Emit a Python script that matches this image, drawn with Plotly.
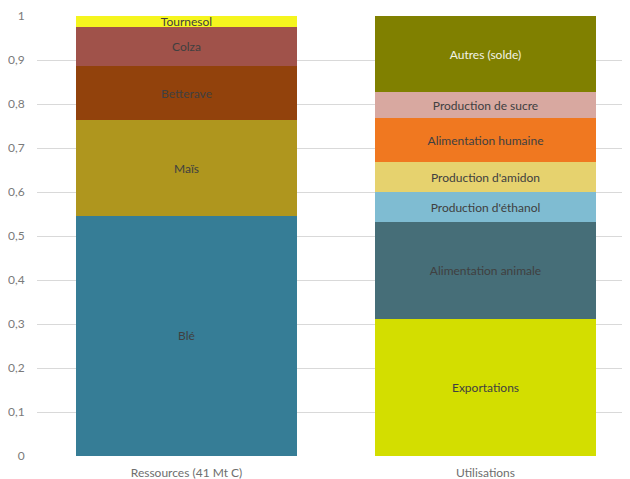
import plotly.graph_objects as go

categories = ["Ressources (41 Mt C)", "Utilisations"]

ressources_names = ["Blé", "Maïs", "Betterave", "Colza", "Tournesol"]
ressources_values = [0.546, 0.217, 0.124, 0.089, 0.024]
ressources_colors = ["#367D96", "#AF961E", "#92420C", "#A0524A", "#F5F51E"]

utilisations_names = ["Exportations", "Alimentation animale", "Production d'éthanol",
                      "Production d'amidon", "Alimentation humaine",
                      "Production de sucre", "Autres (solde)"]
utilisations_values = [0.312, 0.219, 0.069, 0.068, 0.100, 0.059, 0.173]
utilisations_colors = ["#D3DE00", "#466E78", "#7FBCD2", "#E6D26E", "#F07820",
                       "#D8A8A0", "#808000"]
utilisations_textcolors = ["#404040"] * 6 + ["#F2F2E6"]

y_tickvals = [0, 0.1, 0.2, 0.3, 0.4, 0.5, 0.6, 0.7, 0.8, 0.9, 1]
y_ticktext = ["0", "0,1", "0,2", "0,3", "0,4", "0,5", "0,6", "0,7", "0,8", "0,9", "1"]

FONT = "Lato"
fig = go.Figure()

for n, v, c in zip(ressources_names, ressources_values, ressources_colors):
    fig.add_trace(go.Bar(
        x=[categories[0]], y=[v], name=n, marker_color=c, marker_line_width=0,
        text=[n], textposition="inside", insidetextanchor="middle", textangle=0,
        textfont=dict(family=FONT, size=12, color="#404040"),
        constraintext="none", width=0.74,
    ))

for n, v, c, tc in zip(utilisations_names, utilisations_values, utilisations_colors,
                       utilisations_textcolors):
    fig.add_trace(go.Bar(
        x=[categories[1]], y=[v], name=n, marker_color=c, marker_line_width=0,
        text=[n], textposition="inside", insidetextanchor="middle", textangle=0,
        textfont=dict(family=FONT, size=12, color=tc),
        constraintext="none", width=0.74,
    ))

fig.update_layout(
    barmode="stack",
    width=630, height=479,
    margin=dict(l=29, r=3, t=8, b=31, autoexpand=False),
    paper_bgcolor="white", plot_bgcolor="white",
    showlegend=False,
    uniformtext=dict(minsize=12, mode="show"),
    font=dict(family=FONT, size=12, color="#6E6E6E"),
    xaxis=dict(showgrid=False, showline=False, ticks="outside", ticklen=6,
               tickcolor="rgba(0,0,0,0)", automargin=False,
               tickfont=dict(family=FONT, size=12, color="#6E6E6E")),
    yaxis=dict(range=[0, 1], tickvals=y_tickvals, ticktext=y_ticktext,
               showgrid=True, gridcolor="#D9D9D9", gridwidth=1,
               zeroline=False, showline=False, ticks="outside", ticklen=9,
               tickcolor="rgba(0,0,0,0)", automargin=False,
               tickfont=dict(family=FONT, size=12, color="#7A7A7A")),
)

fig.write_html("out.html")
